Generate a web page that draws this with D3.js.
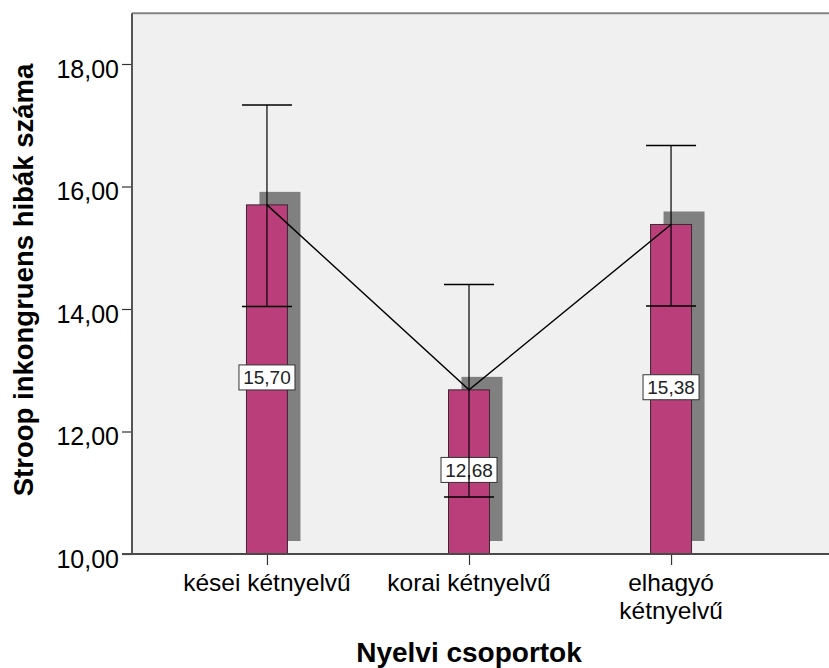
<!DOCTYPE html>
<html>
<head>
<meta charset="utf-8">
<script src="https://cdn.jsdelivr.net/npm/d3@7"></script>
<style>
  html, body { margin: 0; padding: 0; background: #ffffff; }
  svg { display: block; }
  text { font-family: "Liberation Sans", Arial, sans-serif; fill: #000; }
</style>
</head>
<body>
<svg id="chart" width="829" height="668"></svg>
<script>
// ---- data ----
const categories = ["kései kétnyelvű", "korai kétnyelvű", "elhagyó kétnyelvű"];
const categoryLines = [["kései kétnyelvű"], ["korai kétnyelvű"], ["elhagyó", "kétnyelvű"]];
const means = [15.70, 12.68, 15.38];
const upperCI = [17.33, 14.40, 16.67];
const lowerCI = [14.04, 10.93, 14.05];
const valueLabels = ["15,70", "12,68", "15,38"];
const yTicks = [10, 12, 14, 16, 18];
const yTitle = "Stroop inkongruens hibák száma";
const xTitle = "Nyelvi csoportok";

// ---- layout ----
const svg = d3.select("#chart");
const plotLeft = 132, plotBottom = 554, plotRight = 829;
const yMin = 10, yMax = 18.83;

const y = d3.scaleLinear().domain([10, 18]).range([plotBottom, 64]);
const x = d3.scalePoint().domain(categories).range([plotLeft, 806]).padding(0.668);

const barW = 41, capW = 50, shadowOff = 13;

// plot background
svg.append("rect")
  .attr("x", plotLeft).attr("y", y(yMax))
  .attr("width", plotRight - plotLeft).attr("height", plotBottom - y(yMax))
  .attr("fill", "#f0f0f0");
// top frame line
svg.append("line")
  .attr("x1", plotLeft).attr("x2", plotRight)
  .attr("y1", y(yMax)).attr("y2", y(yMax))
  .attr("stroke", "#858585").attr("stroke-width", 2);

const defs = svg.append("defs");
defs.append("filter").attr("id", "soft")
  .append("feGaussianBlur").attr("stdDeviation", 0.6);

const data = categories.map((c, i) => ({
  c, mean: means[i], up: upperCI[i], lo: lowerCI[i], lab: valueLabels[i]
}));

// shadows
svg.append("g").selectAll("rect").data(data).join("rect")
  .attr("x", d => x(d.c) - barW / 2 + shadowOff)
  .attr("y", d => y(d.mean) - shadowOff)
  .attr("width", barW)
  .attr("height", d => y(yMin) - y(d.mean))
  .attr("fill", "#808080")
  .attr("filter", "url(#soft)");

// bars
svg.append("g").selectAll("rect").data(data).join("rect")
  .attr("x", d => x(d.c) - barW / 2)
  .attr("y", d => y(d.mean))
  .attr("width", barW)
  .attr("height", d => y(yMin) - y(d.mean))
  .attr("fill", "#b93e7a")
  .attr("stroke", "#3a2a30").attr("stroke-width", 1);

// value labels
const lg = svg.append("g").selectAll("g").data(data).join("g")
  .attr("transform", d => `translate(${x(d.c)},${(y(d.mean) + y(yMin)) / 2 - 2})`);
lg.append("rect")
  .attr("x", -28).attr("y", -12.5).attr("width", 56).attr("height", 25)
  .attr("fill", "#ffffff").attr("stroke", "#333333").attr("stroke-width", 1);
lg.append("text")
  .attr("text-anchor", "middle").attr("y", 7)
  .attr("font-size", 19)
  .style("fill", "#222")
  .text(d => d.lab);

// connecting line through means
svg.append("path")
  .datum(data)
  .attr("d", d3.line().x(d => x(d.c)).y(d => y(d.mean)))
  .attr("fill", "none").attr("stroke", "#000").attr("stroke-width", 1.4);

// error bars
const eg = svg.append("g").selectAll("g").data(data).join("g");
eg.append("line")
  .attr("x1", d => x(d.c)).attr("x2", d => x(d.c))
  .attr("y1", d => y(d.lo)).attr("y2", d => y(d.up))
  .attr("stroke", "#000").attr("stroke-width", 1.2);
eg.append("line")
  .attr("x1", d => x(d.c) - capW / 2).attr("x2", d => x(d.c) + capW / 2)
  .attr("y1", d => y(d.up)).attr("y2", d => y(d.up))
  .attr("stroke", "#000").attr("stroke-width", 1.4);
eg.append("line")
  .attr("x1", d => x(d.c) - capW / 2).attr("x2", d => x(d.c) + capW / 2)
  .attr("y1", d => y(d.lo)).attr("y2", d => y(d.lo))
  .attr("stroke", "#000").attr("stroke-width", 1.4);

// y axis
const yAxis = d3.axisLeft(y).tickValues(yTicks).tickSize(10).tickSizeOuter(0)
  .tickFormat(d => d.toFixed(2).replace(".", ","));
const yg = svg.append("g").attr("transform", `translate(${plotLeft},0)`).call(yAxis);
yg.select(".domain").remove();
yg.selectAll(".tick line").attr("stroke", "#333").attr("stroke-width", 1.2);
yg.selectAll(".tick text")
  .attr("x", -13).attr("dy", null).attr("y", 13)
  .attr("font-size", 25).attr("font-family", "Liberation Sans, Arial, sans-serif")
  .style("fill", "#000");
svg.append("line")
  .attr("x1", plotLeft).attr("x2", plotLeft)
  .attr("y1", y(yMax)).attr("y2", plotBottom)
  .attr("stroke", "#555").attr("stroke-width", 2);

// x axis
const xAxis = d3.axisBottom(x).tickSize(11).tickSizeOuter(0).tickFormat("");
const xg = svg.append("g").attr("transform", `translate(0,${plotBottom})`).call(xAxis);
xg.select(".domain").remove();
xg.selectAll(".tick line").attr("stroke", "#333").attr("stroke-width", 1.2);
svg.append("line")
  .attr("x1", plotLeft - 10).attr("x2", plotRight)
  .attr("y1", plotBottom).attr("y2", plotBottom)
  .attr("stroke", "#4a4a4a").attr("stroke-width", 2);

// category labels
const cl = svg.append("g").selectAll("text").data(categories).join("text")
  .attr("text-anchor", "middle")
  .attr("font-size", 24.5)
  .attr("transform", d => `translate(${x(d)},591)`);
cl.selectAll("tspan").data((d, i) => categoryLines[i]).join("tspan")
  .attr("x", 0).attr("dy", (d, j) => j === 0 ? 0 : 27.5)
  .text(d => d);

// axis titles
svg.append("text")
  .attr("text-anchor", "middle")
  .attr("font-size", 28).attr("font-weight", "bold")
  .attr("x", x(categories[1])).attr("y", 662)
  .text(xTitle);

svg.append("text")
  .attr("text-anchor", "middle")
  .attr("font-size", 27.5).attr("font-weight", "bold")
  .attr("transform", "translate(33,280) rotate(-90)")
  .text(yTitle);
</script>
</body>
</html>
